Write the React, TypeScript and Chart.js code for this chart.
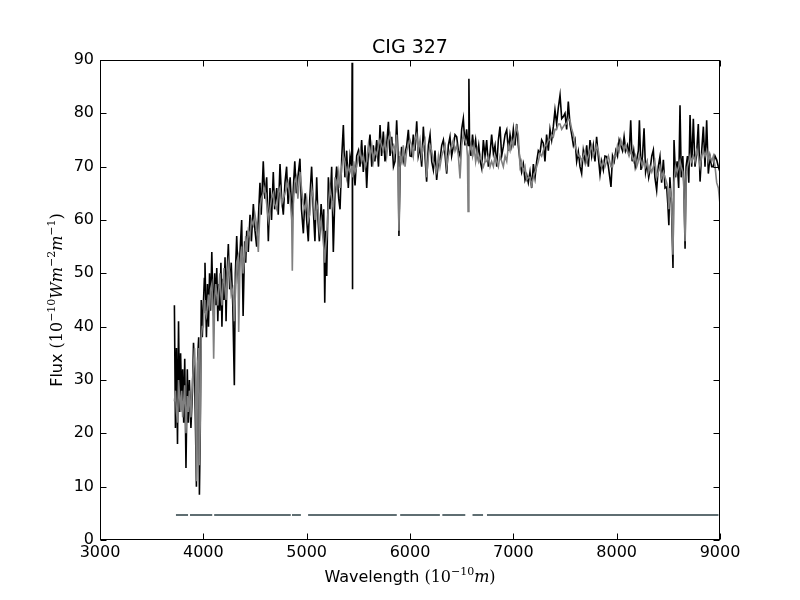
import { useEffect, useRef } from "react";
import { Chart, registerables } from "chart.js";

Chart.register(...registerables);

// Wavelength samples (Angstrom)
const wave = [
  3720, 3730, 3740, 3750, 3760, 3770, 3780, 3790, 3800, 3810, 3820, 3832, 3845, 3855, 3865, 3880, 3895, 3905, 3915, 3925, 3933, 3945, 3955, 3962, 3970, 3980, 3990, 4000,
  4010, 4016, 4030, 4040, 4050, 4060, 4070, 4082, 4092, 4100, 4110, 4120, 4130, 4140, 4150, 4160, 4170, 4180, 4190, 4200, 4210, 4220, 4230, 4242, 4255, 4270, 4285, 4300, 4310, 4323, 4335, 4342, 4355, 4371, 4385, 4400, 4410, 4420, 4435, 4452, 4465, 4484, 4500,
  4516, 4532, 4548, 4560, 4580, 4595, 4613, 4629, 4645, 4660, 4677, 4690, 4710, 4725, 4742, 4758, 4774, 4790, 4806, 4820, 4840, 4855, 4861, 4871, 4885, 4900, 4915, 4935, 4950, 4968, 4985, 5000,
  5016, 5030, 5048, 5064, 5080, 5097, 5110, 5123, 5140, 5155, 5165, 5175, 5185, 5194, 5210, 5225, 5242, 5258, 5275, 5290, 5310, 5323, 5340, 5355, 5370, 5387, 5403, 5420, 5436, 5440, 5442, 5446, 5455, 5468, 5484, 5500,
  5516, 5532, 5548, 5565, 5581, 5597, 5613, 5630, 5645, 5660, 5678, 5695, 5710, 5725, 5742, 5758, 5774, 5791, 5807, 5823, 5840, 5855, 5871, 5885, 5893, 5905, 5919, 5935, 5952, 5968, 5984, 6000,
  6016, 6032, 6048, 6065, 6080, 6097, 6113, 6129, 6145, 6161, 6178, 6194, 6210, 6226, 6242, 6258, 6275, 6290, 6307, 6323, 6340, 6355, 6371, 6387, 6403, 6419, 6436, 6452, 6468, 6484, 6500,
  6516, 6532, 6548, 6556, 6562, 6570, 6576, 6590, 6605, 6620, 6635, 6650, 6665, 6680, 6694, 6710, 6726, 6742, 6758, 6775, 6790, 6807, 6823, 6839, 6855, 6871, 6887, 6903, 6920, 6936, 6952, 6968, 6984, 7000,
  7016, 7032, 7048, 7065, 7080, 7097, 7113, 7129, 7145, 7161, 7177, 7194, 7210, 7226, 7242, 7258, 7274, 7290, 7306, 7322, 7339, 7355, 7371, 7387, 7403, 7419, 7435, 7452, 7468, 7484, 7500, 7516, 7532, 7548, 7565, 7581, 7597, 7613, 7629, 7645,
  7661, 7677, 7694, 7710, 7726, 7742, 7758, 7774, 7790, 7806, 7822, 7839, 7855, 7871, 7887, 7903, 7920, 7945, 7960, 7976, 7992, 8008, 8024, 8040, 8056, 8072, 8088, 8104, 8120, 8136, 8150, 8165, 8180, 8194, 8210, 8220, 8235, 8250, 8265, 8280, 8295, 8310, 8323, 8340, 8355, 8370, 8387, 8403, 8419, 8435, 8452, 8468, 8484,
  8495, 8505, 8515, 8530, 8545, 8555, 8570, 8585, 8600, 8613, 8625, 8640, 8650, 8662, 8672, 8685, 8698, 8710, 8726, 8742, 8758, 8774, 8790, 8807, 8823, 8839, 8855, 8871, 8887, 8903, 8920, 8936, 8952, 8968, 8984, 9000,
];

// Observed flux (black)
const observed = [
  44, 21, 36, 18, 41, 24, 35, 26, 32, 22, 34, 13.5, 32, 22, 30, 21, 28, 37, 32, 20, 10, 34, 38, 8.5, 20, 45, 38, 44,
  49, 52, 38, 48, 40, 50, 43, 54, 45, 42, 50, 44, 51, 41, 48, 43, 52, 40, 49, 45, 53, 41, 50, 55.5, 47, 52, 44, 29, 50, 57, 50, 48, 54, 60, 42, 56, 52, 58, 54, 61, 56, 63, 58,
  55, 60, 67, 61, 71, 64, 68, 56, 66, 60, 69, 62, 66, 61, 70.5, 64, 61, 67, 70, 63, 68, 62, 60, 66, 71, 65, 68, 71.5, 62, 57.5, 65, 60,
  56, 64, 70, 62, 56, 68, 60, 56, 63, 58, 62, 44.5, 58, 49.5, 68, 62, 70, 54, 66, 70, 64, 62, 72, 77.8, 68, 73, 66, 72, 70, 89.5, 47, 70, 70, 66.5, 72, 73,
  70, 75, 69, 74, 66, 73, 76, 70, 74, 71, 75, 70, 77.8, 72, 76.6, 71, 74, 78.4, 72, 75.6, 70, 71, 78.7, 72, 57, 70, 73.7, 71, 72.5, 74, 76.9, 72,
  71.9, 76, 73, 78.5, 72, 73.7, 70, 77.5, 72, 67.2, 74, 76, 71, 69.4, 73, 67.5, 71, 71.3, 74, 75, 72, 68.7, 74, 75.6, 72, 73.7, 76, 75.6, 73, 72, 77,
  79, 74, 77, 75, 74, 86.5, 75, 72, 76, 73, 75, 72, 74, 71, 69.7, 75, 72, 75, 70, 72.6, 76, 72.5, 74, 70, 75, 77.5, 72, 73.7, 76, 76.9, 73, 76, 74, 77,
  74, 78, 74, 71, 69, 70.5, 67.5, 68.5, 67, 69, 66, 70.5, 68, 71, 73, 72.5, 75, 74.4, 71, 76, 73, 77, 75, 77.5, 80.6, 78, 81, 83.4, 79, 79.4, 80, 77, 82.2, 78, 76, 74, 75, 71, 72.8, 70,
  68.7, 73, 71, 74, 70, 75, 72, 74, 71, 75.6, 72, 68.5, 71, 69.4, 72, 71.9, 70, 66.2, 72, 71, 73, 72, 75, 74, 73, 75.6, 73, 74, 72, 78.7, 71, 73, 70, 71.3, 73, 78.7, 69.4, 72, 77.2, 69, 70.6, 68, 69.4, 72, 73.1, 68, 65.6, 70, 71.9, 67, 71.3, 66, 66.2,
  63, 59, 68, 63, 51, 75, 68, 71, 66, 81.5, 68, 72, 67, 54.6, 70, 72, 67, 79.7, 70, 79, 70, 72.5, 78, 67.2, 73, 77.5, 70, 78.7, 68.7, 71.9, 70, 70, 72, 71.3, 70, 69,
];

// Model flux (grey)
const model = [
  26, 28, 24, 22, 30, 27, 24, 28, 23, 26, 29, 20, 27, 24, 28, 23, 30, 33, 36, 30, 11, 33, 36, 14, 22, 38, 40, 40,
  45, 43, 42, 44, 46, 43, 47, 48, 44, 34, 45, 48, 46, 44, 47, 50, 46, 44, 48, 51, 47, 45, 49, 52, 50, 46, 47, 41, 46, 52, 53, 39, 52, 55, 50, 53, 57, 54, 58, 57, 60, 59, 61,
  59, 54, 62, 64, 65, 66, 63, 60, 62, 64, 65, 63, 62, 65, 66, 63, 64, 65, 66, 67, 64, 60, 50.5, 63, 67, 68, 64, 69, 66, 63, 62, 64,
  60, 61, 66, 64, 60, 63, 62, 58, 60, 57, 55, 52, 55, 57, 63, 66, 64, 62, 68, 66, 69, 66, 70, 72, 71, 68, 70, 69, 70, 70, 69, 68, 71, 69, 70, 72,
  73, 71, 72, 70, 71, 74, 72, 74, 71, 73, 72, 74, 75, 74, 73, 75, 72, 75, 76, 73, 74, 73, 76, 70, 58, 72, 71, 74, 70, 73, 74, 75,
  74, 72, 75, 76, 73, 75, 72, 74, 75, 68, 72, 74, 73, 71, 70, 69, 72, 70, 72, 73, 74, 70, 72, 73, 74, 75, 73, 74, 72, 67.8, 74,
  76, 75, 74, 72, 61.6, 72, 73, 74, 72, 74, 71, 73, 71, 72, 71, 70, 71, 71, 72, 70, 71, 70, 72, 71, 70, 72, 71, 70, 72, 71, 74, 73, 75, 74,
  76, 77.5, 76, 70, 71, 69, 70, 67.5, 68, 68, 66.5, 68, 69, 70, 71, 72.5, 72, 73, 74, 74, 75, 75, 76, 75.6, 77, 77, 78, 78, 77, 77.5, 78, 78, 79, 78.7, 77, 76, 74, 73, 72, 72,
  71, 72, 73, 71, 72, 73, 74, 72, 73, 74, 73, 71, 70, 71, 70, 71, 72, 70, 70, 72, 72, 74, 73, 75, 74, 73, 74, 73, 72, 73, 72, 71, 72, 70, 71, 72, 71, 70, 71, 70, 71, 69, 70, 69, 70, 71, 68, 69, 70, 68, 69, 68, 67,
  66, 62, 66, 64, 53.5, 67, 70, 69, 70, 71, 70, 69, 66, 56, 68, 70, 71, 72, 71, 72, 71, 73, 72, 70, 72, 73, 72, 73, 71, 72, 71, 72, 70, 67, 66, 63,
];

// Fitted-region mask segments
const maskStart = [3735, 3871, 4105, 4858, 5014, 5905, 6313, 6605, 6745];
const maskEnd = [3852, 4086, 4846, 4944, 5872, 6289, 6535, 6707, 8985];
const maskLevel = 4.7;

const titleText = "CIG 327";

const SANS = "'DejaVu Sans', 'Bitstream Vera Sans', sans-serif";
const SERIF = "'DejaVu Serif', serif";

type Seg = { t: string; f: string; dy?: number };

const xLabel: Seg[] = [
  { t: "Wavelength ", f: `16px ${SANS}` },
  { t: "(10", f: `16px ${SERIF}` },
  { t: "\u221210", f: `11px ${SERIF}`, dy: -7 },
  { t: "m", f: `italic 16px ${SERIF}` },
  { t: ")", f: `16px ${SERIF}` },
];

const yLabel: Seg[] = [
  { t: "Flux ", f: `16px ${SANS}` },
  { t: "(10", f: `16px ${SERIF}` },
  { t: "\u221210", f: `11px ${SERIF}`, dy: -7 },
  { t: "Wm", f: `italic 16px ${SERIF}` },
  { t: "\u22122", f: `11px ${SERIF}`, dy: -7 },
  { t: "m", f: `italic 16px ${SERIF}` },
  { t: "\u22121", f: `11px ${SERIF}`, dy: -7 },
  { t: ")", f: `16px ${SERIF}` },
];

function drawRich(ctx: CanvasRenderingContext2D, segs: Seg[], cx: number, baseline: number, rotate: boolean) {
  ctx.save();
  ctx.fillStyle = "#000";
  ctx.textBaseline = "alphabetic";
  ctx.textAlign = "left";
  let total = 0;
  const widths = segs.map((s) => {
    ctx.font = s.f;
    const w = ctx.measureText(s.t).width;
    total += w;
    return w;
  });
  if (rotate) {
    ctx.translate(baseline, cx);
    ctx.rotate(-Math.PI / 2);
    let x = -total / 2;
    segs.forEach((s, i) => {
      ctx.font = s.f;
      ctx.fillText(s.t, x, s.dy || 0);
      x += widths[i];
    });
  } else {
    let x = cx - total / 2;
    segs.forEach((s, i) => {
      ctx.font = s.f;
      ctx.fillText(s.t, x, baseline + (s.dy || 0));
      x += widths[i];
    });
  }
  ctx.restore();
}

const framePlugin = {
  id: "mplFrame",
  afterDraw(chart: any) {
    const { ctx, chartArea: a, scales } = chart;
    ctx.save();
    ctx.strokeStyle = "#000";
    ctx.lineWidth = 1;
    const L = Math.round(a.left) + 0.5;
    const R = Math.round(a.right) - 0.5;
    const T = Math.round(a.top) + 0.5;
    const B = Math.round(a.bottom) - 0.5;
    ctx.strokeRect(L, T, R - L, B - T);
    const tl = 6;
    ctx.beginPath();
    scales.x.ticks.forEach((t: any) => {
      const px = Math.round(scales.x.getPixelForValue(t.value)) + 0.5;
      ctx.moveTo(px, B);
      ctx.lineTo(px, B - tl);
      ctx.moveTo(px, T);
      ctx.lineTo(px, T + tl);
    });
    scales.y.ticks.forEach((t: any) => {
      const py = Math.round(scales.y.getPixelForValue(t.value)) + 0.5;
      ctx.moveTo(L, py);
      ctx.lineTo(L + tl, py);
      ctx.moveTo(R, py);
      ctx.lineTo(R - tl, py);
    });
    ctx.stroke();

    // title
    ctx.fillStyle = "#000";
    ctx.font = `19px ${SANS}`;
    ctx.textAlign = "center";
    ctx.textBaseline = "alphabetic";
    ctx.fillText(titleText, (a.left + a.right) / 2, 53);
    ctx.restore();

    drawRich(ctx, xLabel, (a.left + a.right) / 2, 582, false);
    drawRich(ctx, yLabel, (a.top + a.bottom) / 2, 62, true);
  },
};

export default function App() {
  const ref = useRef<HTMLCanvasElement | null>(null);

  useEffect(() => {
    if (!ref.current) return;
    const obsData = wave.map((x, i) => ({ x, y: observed[i] }));
    const modData = wave.map((x, i) => ({ x, y: model[i] }));
    const maskData: { x: number; y: number | null }[] = [];
    maskStart.forEach((s, i) => {
      maskData.push({ x: s, y: maskLevel });
      maskData.push({ x: maskEnd[i], y: maskLevel });
      if (i < maskStart.length - 1) maskData.push({ x: (maskEnd[i] + maskStart[i + 1]) / 2, y: null });
    });

    const chart = new Chart(ref.current, {
      type: "line",
      data: {
        datasets: [
          {
            label: "model",
            data: modData,
            borderColor: "#808080",
            borderWidth: 1.6,
            pointRadius: 0,
            tension: 0,
            order: 0,
          },
          {
            label: "observed",
            data: obsData,
            borderColor: "#000000",
            borderWidth: 1.6,
            pointRadius: 0,
            tension: 0,
            order: 1,
          },
          {
            label: "mask",
            data: maskData,
            borderColor: "#5f6e72",
            borderWidth: 2,
            pointRadius: 0,
            spanGaps: false,
            order: 2,
          },
        ],
      } as any,
      options: {
        animation: false,
        responsive: true,
        maintainAspectRatio: false,
        layout: { padding: { top: 60, right: 80, bottom: 0, left: 0 } },
        plugins: {
          legend: { display: false },
          tooltip: { enabled: false },
          title: { display: false },
        },
        events: [],
        scales: {
          x: {
            type: "linear",
            min: 3000,
            max: 9000,
            grid: { display: false, drawTicks: false },
            border: { display: false },
            ticks: {
              stepSize: 1000,
              color: "#000",
              font: { family: SANS, size: 16 },
              padding: 3,
              maxRotation: 0,
              callback: (v: any) => String(v),
            },
            afterFit: (s: any) => {
              s.height = 60;
            },
          },
          y: {
            type: "linear",
            min: 0,
            max: 90,
            grid: { display: false, drawTicks: false },
            border: { display: false },
            ticks: {
              stepSize: 10,
              color: "#000",
              font: { family: SANS, size: 16 },
              padding: 6,
              callback: (v: any) => String(v),
            },
            afterFit: (s: any) => {
              s.width = 100;
            },
          },
        },
      } as any,
      plugins: [framePlugin],
    });
    return () => chart.destroy();
  }, []);

  return (
    <div style={{ position: "fixed", left: 0, top: 0, width: 800, height: 600, background: "#fff" }}>
      <canvas ref={ref} />
    </div>
  );
}
